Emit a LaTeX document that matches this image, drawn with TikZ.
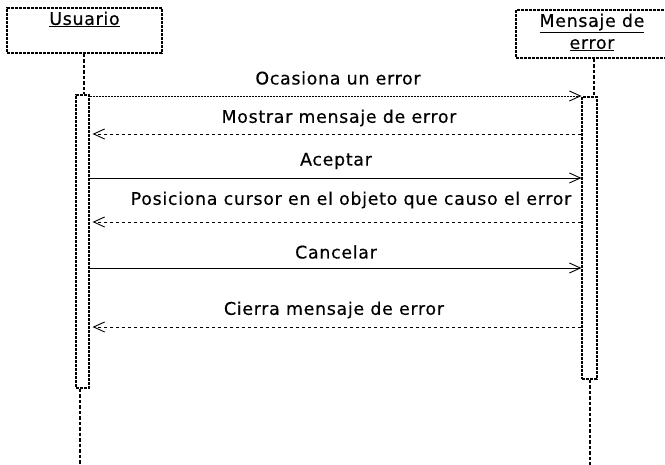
\documentclass[tikz,border=0pt]{standalone}
\usepackage{fontspec}
\setmainfont{DejaVu Sans}[LetterSpace=4, FakeBold=0.4]
\usetikzlibrary{positioning,calc,arrows.meta}

\begin{document}
\begin{tikzpicture}[x=1pt, y=-1pt,
    txt/.style={font=\fontsize{17.4}{22}\selectfont, inner sep=0pt},
    actor/.style={draw, line width=1.1pt, dash pattern=on 3pt off 1pt, inner sep=0pt},
    actbox/.style={draw, line width=1.1pt, dash pattern=on 3pt off 1pt, inner sep=0pt, fill=white},
    lifeline/.style={line width=1.2pt, dash pattern=on 3.5pt off 2pt},
    call/.style={line width=0.9pt, -{Straight Barb[length=11pt, width=10pt]}},
    reply/.style={line width=0.9pt, dash pattern=on 3pt off 3pt, -{Straight Barb[length=11pt, width=10pt]}}]
  \useasboundingbox (0,0) rectangle (665,465);

  % Actors
  \node[actor, minimum width=155pt, minimum height=45pt] (usr) at (84.5,30.5) {};
  \node[txt, below=4pt of usr.north] (usrlbl) {\underline{Usuario}};
  \node[actor, minimum width=152pt, minimum height=48pt] (msg) at (592,34) {};
  \node[txt, align=center, below=4pt of msg.north] (msglbl) {\underline{Mensaje de}\\\underline{error}};

  % Lifelines and activations
  \node[actbox, minimum width=13pt, minimum height=293pt] (actU) at (82.5,241.5) {};
  \node[actbox, minimum width=15pt, minimum height=282pt] (actM) at (589.5,238) {};
  \coordinate (endU) at (80,465);
  \coordinate (endM) at (590,465);
  \draw[lifeline] (usr.south -| 84,0) -- (actU.north -| 84,0);
  \draw[lifeline] (actU.south -| endU) -- (endU);
  \draw[lifeline] (msg.south -| 594,0) -- (actM.north -| 594,0);
  \draw[lifeline] (actM.south -| endM) -- (endM);

  % Messages
  \coordinate (m1) at (0,96);
  \coordinate (m2) at (0,134);
  \coordinate (m3) at (0,178);
  \coordinate (m4) at (0,222);
  \coordinate (m5) at (0,268);
  \coordinate (m6) at (0,327);
  \draw[call, dash pattern=on 2pt off 1pt] (actU.east |- m1) -- (actM.west |- m1);
  \draw[reply] (actM.west |- m2) -- ($(actU.east |- m2)+(3,0)$);
  \draw[call] (actU.east |- m3) -- (actM.west |- m3);
  \draw[reply] (actM.west |- m4) -- ($(actU.east |- m4)+(3,0)$);
  \draw[call] (actU.east |- m5) -- (actM.west |- m5);
  \draw[reply] (actM.west |- m6) -- ($(actU.east |- m6)+(3,0)$);

  % Message labels
  \node[txt] (l1) at (338,78) {Ocasiona un error};
  \node[txt] (l2) at (339,118) {Mostrar mensaje de error};
  \node[txt] (l3) at (336,161) {Aceptar};
  \node[txt] (l4) at (351,200) {Posiciona cursor en el objeto que causo el error};
  \node[txt] (l5) at (336,252) {Cancelar};
  \node[txt] (l6) at (334,310) {Cierra mensaje de error};
\end{tikzpicture}
\end{document}
